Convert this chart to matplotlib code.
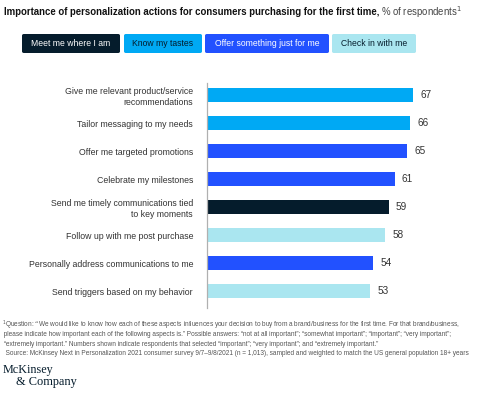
import matplotlib
matplotlib.use("Agg")
from matplotlib import pyplot as plt
from matplotlib.patches import FancyBboxPatch

W, H = 480, 395

labels = ["Give me relevant product/service\nrecommendations",
          "Tailor messaging to my needs",
          "Offer me targeted promotions",
          "Celebrate my milestones",
          "Send me timely communications tied\nto key moments",
          "Follow up with me post purchase",
          "Personally address communications to me",
          "Send triggers based on my behavior"]
values = [67, 66, 65, 61, 59, 58, 54, 53]
groups = ["know", "know", "offer", "offer", "meet", "check", "offer", "check"]

legend_names = ["Meet me where I am", "Know my tastes", "Offer something just for me", "Check in with me"]
legend_keys = ["meet", "know", "offer", "check"]
colors = {"meet": "#051c2c", "know": "#00a9f4", "offer": "#2251ff", "check": "#aae6f0"}
legend_text = {"meet": "white", "know": "#051c2c", "offer": "white", "check": "#051c2c"}

plt.rcParams['font.family'] = ['Liberation Sans', 'DejaVu Sans']

fig = plt.figure(figsize=(W / 100, H / 100), dpi=100)

def px(x, y):
    # pixel coords (from top-left) -> figure fraction
    return x / W, 1 - y / H

# axes placed in pixel units
ax_l, ax_r, ax_t, ax_b = 207, 447, 83, 308
ax = fig.add_axes([ax_l / W, 1 - ax_b / H, (ax_r - ax_l) / W, (ax_b - ax_t) / H])
ypos = list(range(len(values)))
ax.barh(ypos, values, height=0.5, color=[colors[g] for g in groups])
for y, v in zip(ypos, values):
    ax.text(v + 2.3, y, str(v), va="center", ha="left", fontsize=7.2, color="#333333")
ax.set_xlim(0, 78)
ax.set_ylim(7.6, -0.43)
ax.set_yticks(ypos)
ax.set_yticklabels(labels, fontsize=6.3, color="#333333", linespacing=1.25)
ax.tick_params(axis="y", length=0, pad=10)
ax.set_xticks([])
for s in ["top", "right", "bottom"]:
    ax.spines[s].set_visible(False)
ax.spines["left"].set_color("#b0b0b0")
ax.spines["left"].set_linewidth(0.9)

# title
t = fig.text(*px(4, 12), "Importance of personalization actions for consumers purchasing for the first time,",
             fontsize=6.9, fontweight="bold", color="#111111", va="center", ha="left")
fig.canvas.draw()
bb = t.get_window_extent()
fig.text(bb.x1 / W + 2 / W, px(0, 12)[1], "% of respondents$^{1}$", fontsize=6.9,
         color="#444444", va="center", ha="left")

# legend boxes
box_x = [(22, 120), (124, 202), (205, 329), (332, 416)]
for (x0, x1), key, name in zip(box_x, legend_keys, legend_names):
    fx, fy = px(x0, 53)
    p = FancyBboxPatch((fx, fy), (x1 - x0) / W, 19 / H, boxstyle="round,pad=0,rounding_size=0.004",
                       transform=fig.transFigure, facecolor=colors[key], edgecolor="none")
    fig.patches.append(p)
    cx, cy = px((x0 + x1) / 2, 43.5)
    fig.text(cx, cy, name, fontsize=6.2, color=legend_text[key], ha="center", va="center")

# footnotes
notes = ["$^{1}$Question: \u201cWe would like to know how each of these aspects influences your decision to buy from a brand/business for the first time. For that brand/business,",
         " please indicate how important each of the following aspects is.\u201d Possible answers: \u201cnot at all important\u201d; \u201csomewhat important\u201d; \u201cimportant\u201d; \u201cvery important\u201d;",
         " \u201cextremely important.\u201d Numbers shown indicate respondents that selected \u201cimportant\u201d; \u201cvery important\u201d; and \u201cextremely important.\u201d",
         "  Source: McKinsey Next in Personalization 2021 consumer survey 9/7\u20139/8/2021 (n = 1,013), sampled and weighted to match the US general population 18+ years"]
for i, n in enumerate(notes):
    fig.text(*px(2, 325 + i * 9.5), n, fontsize=4.7, color="#555555", va="center", ha="left")

# logo
fig.text(*px(3, 370), "McKinsey", family="Liberation Serif", fontsize=8.7, color="#051c2c", va="center")
fig.text(*px(16, 382), "& Company", family="Liberation Serif", fontsize=8.9, color="#051c2c", va="center")

fig.savefig("out.png", dpi=100)
